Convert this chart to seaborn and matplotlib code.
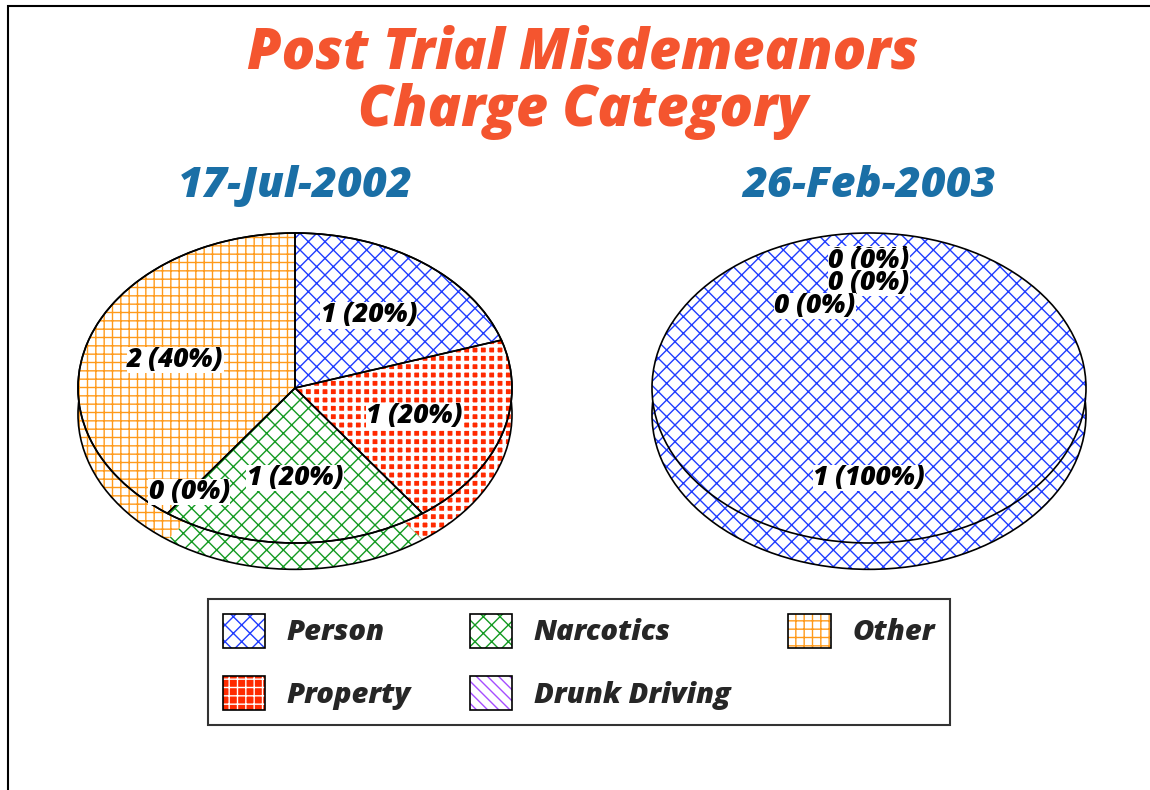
import numpy as np
import matplotlib
matplotlib.use('Agg')
import matplotlib.pyplot as plt
from matplotlib.patches import Patch, Ellipse, Rectangle
import seaborn as sns

categories = ['Person', 'Property', 'Narcotics', 'Drunk Driving', 'Other']
counts_2002 = [1, 1, 1, 0, 2]
counts_2003 = [1, 0, 0, 0, 0]
dates = ['17-Jul-2002', '26-Feb-2003']

faces = ['white', '#ff2a00', 'white', 'white', 'white']
hatch_cols = ['#1f3cff', 'white', '#139a22', '#a64dff', '#ff9a1a']
hatches = ['xx', '++', 'xx', '\\\\\\', '++']

sns.set_theme(style='white')
FONT = ['Open Sans', 'DejaVu Sans']
plt.rcParams['font.family'] = FONT
plt.rcParams['hatch.linewidth'] = 1.0

W, H = 1150, 790
fig = plt.figure(figsize=(W / 100, H / 100), dpi=100)

# pie geometry in pixels
rx, ry = 217, 155
depth = 0.17
txt = dict(fontweight='heavy', fontstyle='italic')


def style_wedges(wedges):
    for w, fc, hc, h in zip(wedges, faces, hatch_cols, hatches):
        w.set_facecolor(fc)
        w.set_edgecolor(hc)
        w.set_hatch(h)
        w.set_linewidth(0)
        if hasattr(w, 'set_hatch_linewidth') and fc != 'white':
            w.set_hatch_linewidth(2.5)


def draw_pie(cx, cy, counts, title):
    xl = (-1.2, 1.2)
    yl = (-1.45, 1.2)
    left = cx - rx * 1.2
    top = cy - ry * 1.2
    wpx = rx * (xl[1] - xl[0])
    hpx = ry * (yl[1] - yl[0])
    ax = fig.add_axes([left / W, 1 - (top + hpx) / H, wpx / W, hpx / H])

    side, _ = ax.pie(counts, startangle=90, counterclock=False, center=(0, -depth))
    style_wedges(side)
    ax.add_patch(Ellipse((0, -depth), 2, 2, fill=False, ec='black', lw=1.2))
    top_w, _ = ax.pie(counts, startangle=90, counterclock=False)
    style_wedges(top_w)
    total = sum(counts)
    outl, _ = ax.pie(counts, startangle=90, counterclock=False,
                     wedgeprops=dict(fill=False, edgecolor='black', linewidth=1.2))
    for w, v in zip(outl, counts):
        if v == total or v == 0:
            w.set_linewidth(0)
    ax.add_patch(Ellipse((0, 0), 2, 2, fill=False, ec='black', lw=1.2))

    k = 0
    for w, v in zip(top_w, counts):
        mid = np.deg2rad((w.theta1 + w.theta2) / 2)
        if v == 0:
            # stack the zero labels like the original does
            step = max(k - 1, 0)
            f = 0.83 - 0.15 * step
            x = f * np.cos(mid) - (0.25 if step >= 2 else 0)
            y = f * np.sin(mid) - (0.01 if k == 1 else 0)
            k += 1
        else:
            x = 0.58 * np.cos(mid)
            y = 0.58 * np.sin(mid)
        ax.text(x, y, f"{v} ({v / total:.0%})", ha='center', va='center',
                fontsize=19, color='black', **txt,
                bbox=dict(facecolor='white', edgecolor='none', pad=0.2))

    ax.set_xlim(*xl)
    ax.set_ylim(*yl)
    ax.set_aspect('auto')
    ax.axis('off')

    fig.text(cx / W, 1 - 186 / H, title, ha='center', va='center', fontsize=31,
             color='#1a6fa6', **txt)


draw_pie(295, 388, counts_2002, dates[0])
draw_pie(869, 388, counts_2003, dates[1])

fig.text(583 / W, 1 - 54 / H, 'Post Trial Misdemeanors', ha='center', va='center',
         fontsize=40, color='#f4552f', **txt)
fig.text(583 / W, 1 - 112 / H, 'Charge Category', ha='center', va='center',
         fontsize=40, color='#f4552f', **txt)

# legend
handles = []
for fc, hc, h in zip(faces, hatch_cols, hatches):
    handles.append((Patch(facecolor=fc, edgecolor=hc, hatch=h, linewidth=0),
                    Patch(fill=False, edgecolor='black', linewidth=1.2)))
leg = fig.legend(handles, categories, loc='center', bbox_to_anchor=(579 / W, 1 - 662 / H),
                 ncol=3, frameon=True, fancybox=False, edgecolor='black',
                 handlelength=1.45, handleheight=1.45, handletextpad=0.75,
                 columnspacing=2.0, labelspacing=0.95, borderpad=0.5,
                 prop=dict(family=FONT, weight='heavy', style='italic', size=21))
leg.get_frame().set_linewidth(1.5)

fig.patches.append(Rectangle((8 / W, -0.05), 1.2, 1 - 6 / H + 0.05, transform=fig.transFigure,
                             fill=False, edgecolor='black', linewidth=1.5))

fig.savefig('out.png', dpi=100, facecolor='white')
